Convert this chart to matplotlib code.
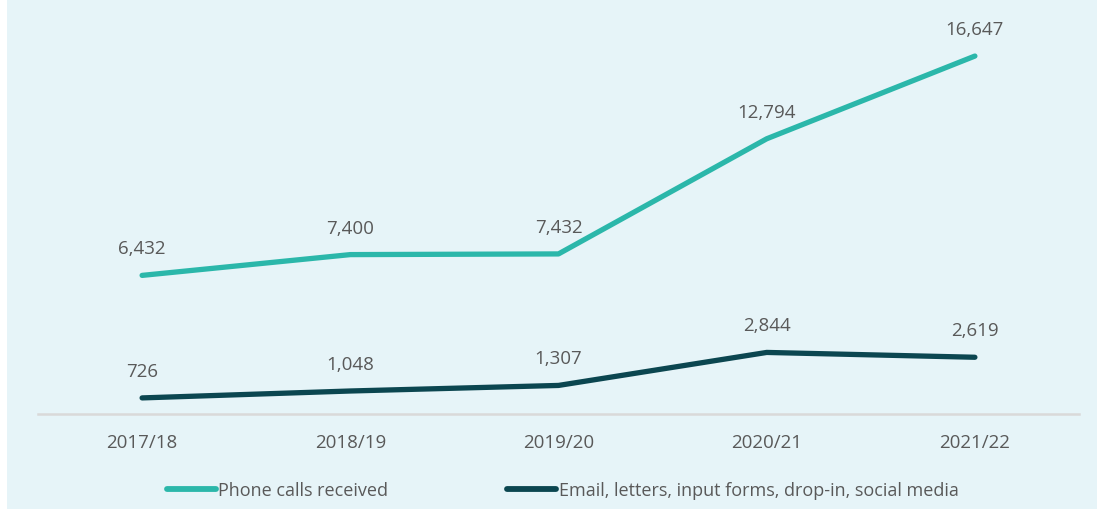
import matplotlib
matplotlib.use("Agg")
import matplotlib.pyplot as plt

categories = ["2017/18", "2018/19", "2019/20", "2020/21", "2021/22"]
phone = [6432, 7400, 7432, 12794, 16647]
other = [726, 1048, 1307, 2844, 2619]
series_names = ["Phone calls received", "Email, letters, input forms, drop-in, social media"]

bg = "#E6F4F8"
c_phone = "#2BB7AA"
c_other = "#0B4650"
txt = "#595959"

plt.rcParams['font.family'] = ['Open Sans', 'DejaVu Sans']

fig = plt.figure(figsize=(10.97, 5.10), dpi=100)
fig.patch.set_facecolor("white")
bgax = fig.add_axes([7/1097, 0, 1 - 7/1097, 1])
bgax.set_facecolor(bg)
bgax.set_xticks([]); bgax.set_yticks([])
for s in bgax.spines.values():
    s.set_visible(False)

ax = fig.add_axes([38/1097, (510-414.5)/510, (1079-38)/1097, (414.5-28)/510])
ax.set_facecolor("none")
x = list(range(len(categories)))
l1, = ax.plot(x, phone, color=c_phone, lw=3.8, solid_capstyle="round", solid_joinstyle="round")
l2, = ax.plot(x, other, color=c_other, lw=3.8, solid_capstyle="round", solid_joinstyle="round")
ax.set_xlim(-0.5, 4.5)
ax.set_ylim(0, 18000)
for xi, v in zip(x, phone):
    ax.annotate(f"{v:,}", (xi, v), xytext=(0, 13), textcoords="offset points",
                ha="center", va="bottom", fontsize=13.5, color=txt)
for xi, v in zip(x, other):
    ax.annotate(f"{v:,}", (xi, v), xytext=(0, 13), textcoords="offset points",
                ha="center", va="bottom", fontsize=13.5, color=txt)
ax.set_xticks(x)
ax.set_xticklabels(categories, fontsize=13.5, color=txt)
ax.tick_params(axis="x", length=0, pad=14)
ax.set_yticks([])
for k in ["top", "right", "left"]:
    ax.spines[k].set_visible(False)
ax.spines["bottom"].set_color("#D9D9D9")
ax.spines["bottom"].set_linewidth(1.8)

leg = fig.legend([l1, l2], series_names, loc="center", bbox_to_anchor=(0.513, 1 - 491.5/510),
                 ncol=2, frameon=False, fontsize=13, handlelength=2.7, handletextpad=0.15,
                 columnspacing=6.6, labelcolor=txt)
for h in leg.get_lines():
    h.set_linewidth(4.2)
fig.savefig("out.png", dpi=100, facecolor=fig.get_facecolor())
